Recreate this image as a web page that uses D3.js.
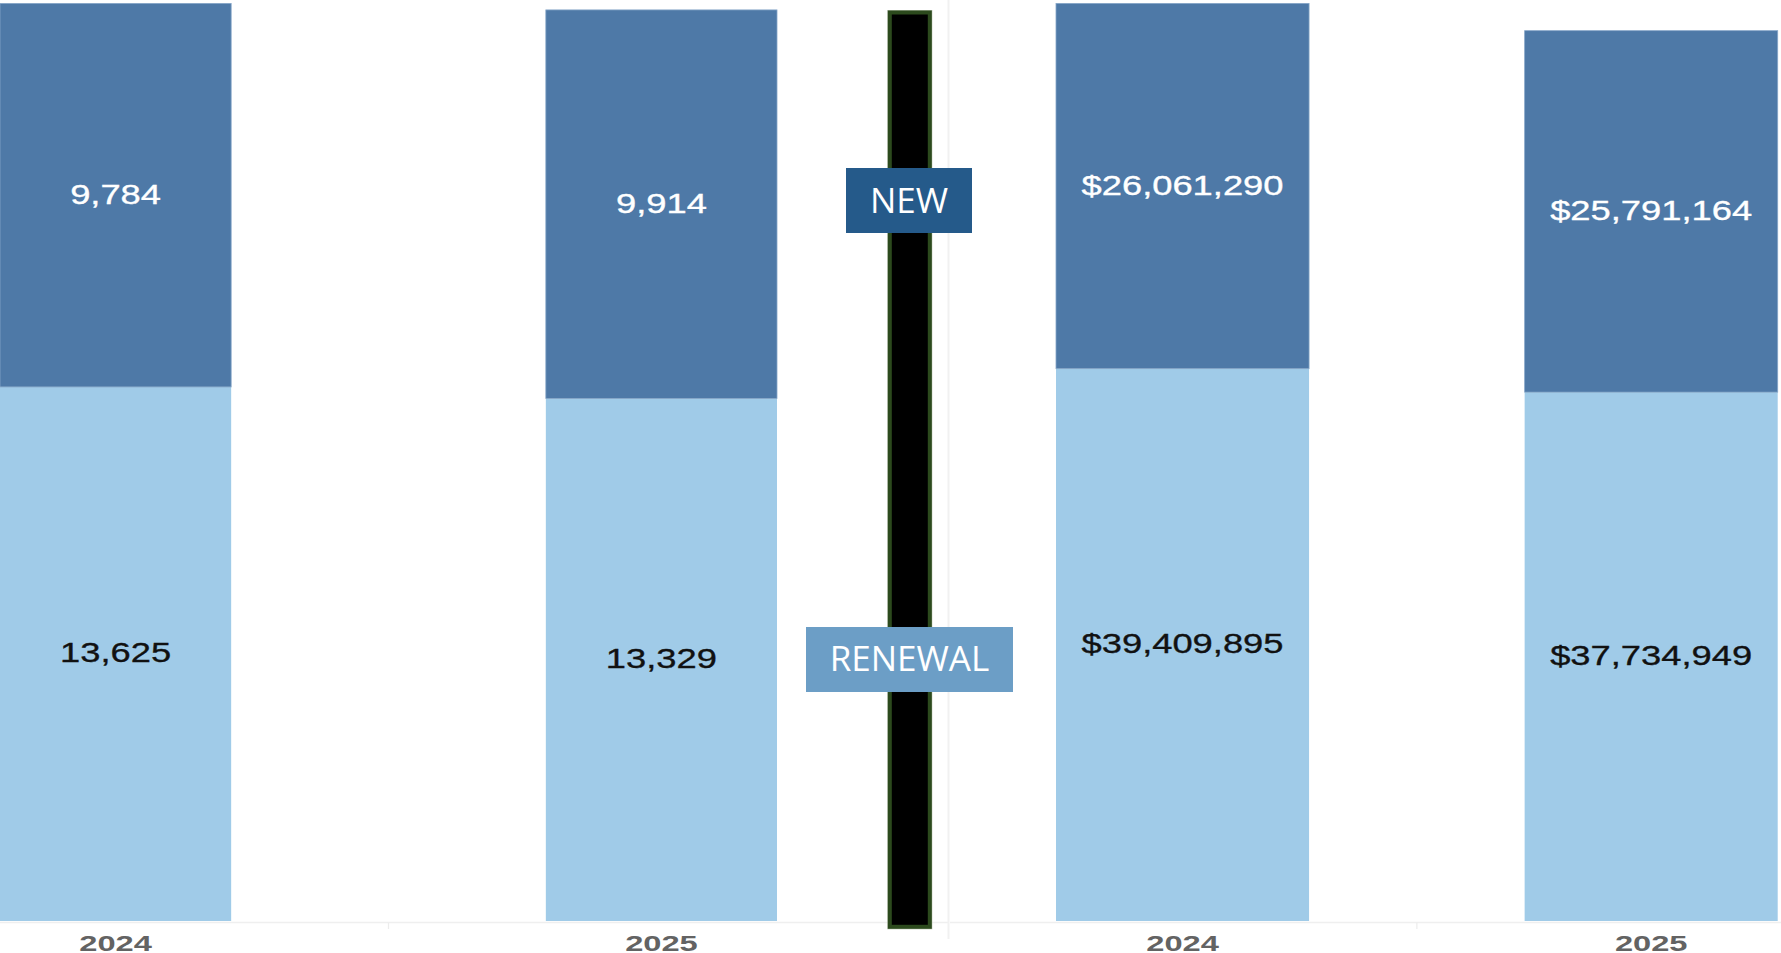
<!DOCTYPE html>
<html>
<head>
<meta charset="utf-8">
<script src="https://cdn.jsdelivr.net/npm/d3@7"></script>
<style>
  html, body { margin: 0; padding: 0; background: #ffffff; }
  svg { display: block; }
</style>
</head>
<body>
<svg id="chart" width="1781" height="953"></svg>
<script>
// Policy counts and premium totals by year, split into new and renewal business
const years = ["2024", "2025"];
const countNew = [9784, 9914];
const countRenewal = [13625, 13329];
const premiumNew = [26061290, 25791164];
const premiumRenewal = [39409895, 37734949];
const legendLabels = ["NEW", "RENEWAL"];

const W = 1781, H = 953;
const baseY = 921;
const colNew = "#4e79a7", colRenewal = "#a0cbe8";

const svg = d3.select("#chart");
svg.append("rect").attr("width", W).attr("height", H).attr("fill", "#ffffff");

const fmtCount = d3.format(",");
const fmtMoney = v => "$" + d3.format(",")(v);

const panels = [
  { newVals: countNew, renVals: countRenewal, fmt: fmtCount,
    x0: 0, x1: 777, padInner: 0.5765, axisFrom: 0, axisTo: 948 },
  { newVals: premiumNew, renVals: premiumRenewal, fmt: fmtMoney,
    x0: 1056, x1: 1777.7, padInner: 0.46, axisFrom: 950, axisTo: W }
];

panels.forEach(p => {
  const totals = years.map((_, i) => p.newVals[i] + p.renVals[i]);
  const x = d3.scaleBand().domain(years).range([p.x0, p.x1])
    .paddingInner(p.padInner).paddingOuter(0);
  const y = d3.scaleLinear().domain([0, d3.max(totals) / 0.9963]).range([baseY, 0]);

  const rows = years.map((yr, i) => ({ yr, ren: p.renVals[i], nw: p.newVals[i] }));
  const g = svg.append("g");

  // baseline axis with a tick between the two years
  g.append("line")
    .attr("x1", p.axisFrom).attr("x2", p.axisTo)
    .attr("y1", baseY + 1.5).attr("y2", baseY + 1.5)
    .attr("stroke", "#efefef").attr("stroke-width", 1.5);
  const mid = (x(years[0]) + x.bandwidth() + x(years[1])) / 2;
  g.append("line")
    .attr("x1", mid).attr("x2", mid)
    .attr("y1", baseY + 1.5).attr("y2", baseY + 8)
    .attr("stroke", "#ececec").attr("stroke-width", 1.2);

  // stacked segments
  g.selectAll(".ren").data(rows).join("rect")
    .attr("x", d => x(d.yr)).attr("width", x.bandwidth())
    .attr("y", d => y(d.ren)).attr("height", d => baseY - y(d.ren))
    .attr("fill", colRenewal);
  g.selectAll(".nw").data(rows).join("rect")
    .attr("x", d => x(d.yr)).attr("width", x.bandwidth())
    .attr("y", d => y(d.ren + d.nw)).attr("height", d => y(d.ren) - y(d.ren + d.nw))
    .attr("fill", colNew)
    .attr("stroke", "#86a6c8").attr("stroke-width", 0.8);

  // value labels centred in each segment
  const label = (cx, cy, txt, fill) => {
    g.append("g")
      .attr("transform", `translate(${cx},${cy + 8.5}) scale(1.275,1)`)
      .append("text")
      .attr("text-anchor", "middle")
      .attr("font-family", "'Liberation Sans', Arial, sans-serif")
      .attr("font-size", 28.5)
      .attr("fill", fill)
      .attr("stroke", fill).attr("stroke-width", 0.35)
      .text(txt);
  };
  rows.forEach(d => {
    const cx = x(d.yr) + x.bandwidth() / 2;
    label(cx, (y(d.ren + d.nw) + y(d.ren)) / 2, p.fmt(d.nw), "#ffffff");
    label(cx, (y(d.ren) + baseY) / 2, p.fmt(d.ren), "#111111");
  });

  // year labels
  years.forEach(yr => {
    g.append("g")
      .attr("transform", `translate(${x(yr) + x.bandwidth() / 2},950.5) scale(1.45,1)`)
      .append("text")
      .attr("text-anchor", "middle")
      .attr("font-family", "'Liberation Sans', Arial, sans-serif")
      .attr("font-weight", "bold")
      .attr("font-size", 22.5)
      .attr("fill", "#636363")
      .text(yr);
  });
});

// divider between the two panels
svg.append("line")
  .attr("x1", 948.5).attr("x2", 948.5).attr("y1", 0).attr("y2", 939)
  .attr("stroke", "#f1f1f1").attr("stroke-width", 2);

// black separator bar with dark green border
svg.append("rect")
  .attr("x", 887.3).attr("y", 10).attr("width", 45).attr("height", 919.3)
  .attr("fill", "#b8c2b0");
svg.append("rect")
  .attr("x", 889.8).attr("y", 12.5).attr("width", 40).attr("height", 914.3)
  .attr("fill", "#000000").attr("stroke", "#2c4a1d").attr("stroke-width", 4);

// legend boxes
const legendBoxes = [
  { x: 846, y: 168, w: 126, h: 65, fill: "#255a8a", base: 213 },
  { x: 806, y: 627, w: 207, h: 65, fill: "#6c9ec6", base: 671 }
];
legendBoxes.forEach((b, i) => {
  svg.append("rect")
    .attr("x", b.x).attr("y", b.y).attr("width", b.w).attr("height", b.h)
    .attr("fill", b.fill);
  svg.append("text")
    .attr("x", b.x + b.w / 2).attr("y", b.base)
    .attr("text-anchor", "middle")
    .attr("font-family", "'Open Sans', 'Noto Sans', sans-serif")
    .attr("font-size", 35)
    .attr("fill", "#ffffff")
    .text(legendLabels[i]);
});
</script>
</body>
</html>
